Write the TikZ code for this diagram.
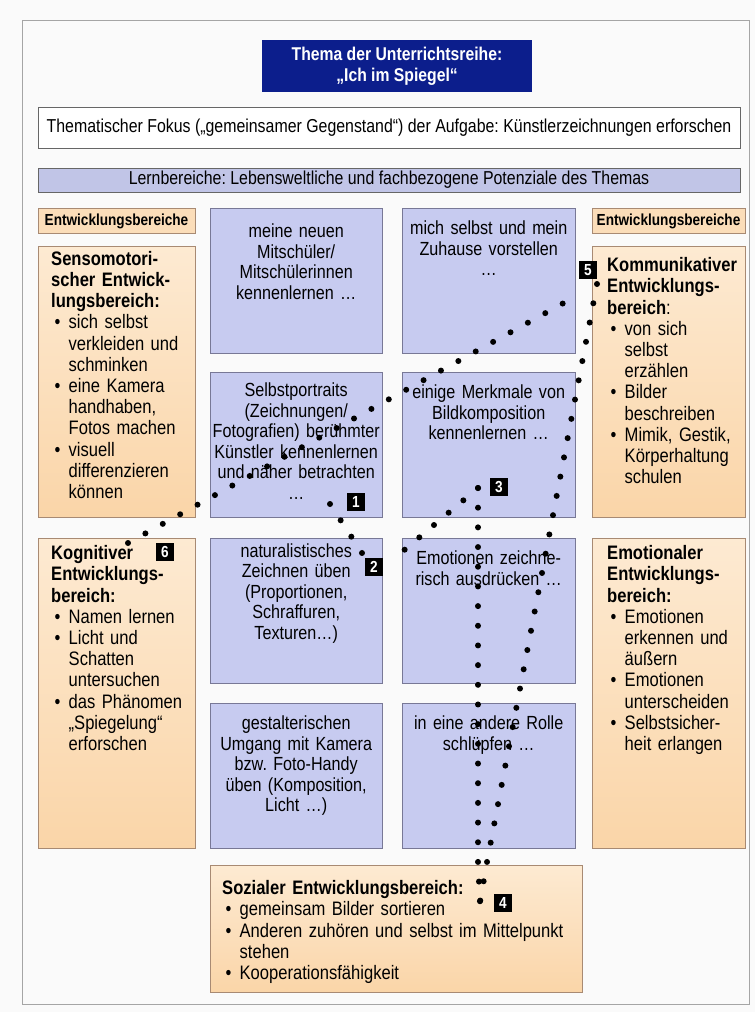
\documentclass[tikz,border=0pt]{standalone}
\usepackage{fontspec}
\setmainfont{Liberation Sans}[FakeStretch=0.85]

\definecolor{titelblau}{RGB}{12,30,140}
\definecolor{lernblau}{RGB}{199,203,240}
\definecolor{lernrand}{RGB}{120,120,150}
\definecolor{entwhell}{RGB}{253,234,210}
\definecolor{entwdunkel}{RGB}{250,213,168}
\definecolor{entwrand}{RGB}{168,138,115}
\definecolor{rahmen}{RGB}{165,165,165}

\newcommand{\pkt}{\makebox[17.5pt][l]{\hspace{3.5pt}•}}
\newcommand{\ein}{\hspace*{17.5pt}}
\frenchspacing

\tikzset{
  lern/.style={draw=lernrand, fill=lernblau, anchor=north west,
    inner sep=0pt, text width=172pt, align=center,
    text height=26.5pt, text depth=118.5pt,
    font=\fontsize{19}{20.5}\selectfont},
  entw/.style={draw=entwrand, top color=entwhell, bottom color=entwdunkel,
    anchor=north west, inner xsep=13pt, inner ysep=0pt, align=left,
    font=\fontsize{19.5}{21.2}\selectfont},
  kopf/.style={draw=entwrand, fill=entwdunkel!80!white, inner sep=0pt,
    minimum height=25pt, font=\bfseries\fontsize{16}{16}\selectfont},
  marke/.style={fill=black, text=white, inner sep=0pt, minimum width=18pt,
    minimum height=18pt, font=\bfseries\fontsize{16}{16}\selectfont},
  punkte/.style={line width=6pt, line cap=round, dash pattern=on 0pt off #1}
}

\begin{document}
\begin{tikzpicture}[x=1pt, y=-1pt]
\useasboundingbox (0,0) rectangle (755,1012);
\fill[white!98!black] (0,0) rectangle (755,1012);
\draw[rahmen, line width=1pt] (22,20) rectangle (749,1004);

% Thema, Fokus, Lernbereiche
\node[fill=titelblau, text=white, minimum width=270pt, minimum height=52pt,
  align=center, font=\bfseries\fontsize{18.5}{21}\selectfont] (thema) at (397,66)
  {Thema der Unterrichtsreihe:\\„Ich im Spiegel“};
\node[draw=gray!80!black, fill=white, minimum width=702pt, minimum height=41pt,
  font=\fontsize{18.7}{20}\selectfont] (fokus) at (389,127.5)
  {Thematischer Fokus („gemeinsamer Gegenstand“) der Aufgabe: Künstlerzeichnungen erforschen};
\node[draw=gray!80!black, fill=lernblau!92!gray, minimum width=702pt, minimum height=24pt,
  font=\fontsize{18.7}{20}\selectfont] (lernber) at (389,180)
  {Lernbereiche: Lebensweltliche und fachbezogene Potenziale des Themas};

% Entwicklungsbereiche
\node[kopf, minimum width=157pt] (entwl) at (116.5,221) {Entwicklungsbereiche};
\node[kopf, minimum width=153pt] (entwr) at (668.5,221) {Entwicklungsbereiche};

\node[entw, text width=131pt, text height=19pt, text depth=252pt] (senso) at (38,246)
  {\textbf{Sensomotori-}\\\textbf{scher Entwick-}\\\textbf{lungsbereich:}\\\pkt sich selbst\\\ein verkleiden und\\\ein schminken\\\pkt eine Kamera\\\ein handhaben,\\\ein Fotos machen\\\pkt visuell\\\ein differenzieren\\\ein können};
\node[entw, text width=131pt, text height=21.5pt, text depth=288.5pt] (kogn) at (38,538)
  {\textbf{Kognitiver}\\\textbf{Entwicklungs-}\\\textbf{bereich:}\\\pkt Namen lernen\\\pkt Licht und\\\ein Schatten\\\ein untersuchen\\\pkt\mbox{das Phänomen}\\\ein „Spiegelung“\\\ein erforschen};
\node[entw, inner xsep=15pt, text width=123pt, text height=25.5pt, text depth=245.5pt] (komm) at (592,246)
  {\textbf{Kommunikativer}\\\textbf{Entwicklungs-}\\\textbf{bereich}:\\\pkt von sich\\\ein selbst\\\ein erzählen\\\pkt Bilder\\\ein beschreiben\\\pkt\mbox{Mimik, Gestik,}\\\ein Körperhaltung\\\ein schulen};
\node[entw, inner xsep=15pt, text width=123pt, text height=21.5pt, text depth=288.5pt] (emo) at (592,538)
  {\textbf{Emotionaler}\\\textbf{Entwicklungs-}\\\textbf{bereich:}\\\pkt Emotionen\\\ein erkennen und\\\ein äußern\\\pkt Emotionen\\\ein unterscheiden\\\pkt Selbstsicher-\\\ein heit erlangen};
\node[entw, inner xsep=12pt, text width=348pt, text height=29.5pt, text depth=97.5pt] (sozial) at (210,865)
  {\textbf{Sozialer Entwicklungsbereich:}\\\pkt gemeinsam Bilder sortieren\\\pkt Anderen zuhören und selbst im Mittelpunkt\\\ein stehen\\\pkt Kooperationsfähigkeit};

% Lernbereiche
\node[lern, text height=29.5pt, text depth=115.5pt] (lern11) at (210,208)
  {meine neuen\\Mitschüler/\\Mitschülerinnen\\kennenlernen …};
\node[lern, text width=173pt] (lern12) at (402,208)
  {mich selbst und mein\\Zuhause vorstellen\\…};
\node[lern, text height=24.5pt, text depth=120.5pt] (lern21) at (210,372)
  {Selbstportraits\\(Zeichnungen/\\Fotografien) berühmter\\Künstler kennenlernen\\und näher betrachten\\…};
\node[lern, text width=173pt] (lern22) at (402,372)
  {einige Merkmale von\\Bildkomposition\\kennenlernen …};
\node[lern, text height=19pt, text depth=126pt] (lern31) at (210,538)
  {naturalistisches\\Zeichnen üben\\(Proportionen,\\Schraffuren,\\Texturen…)};
\node[lern, text width=173pt] (lern32) at (402,538)
  {Emotionen zeichne-\\risch ausdrücken …};
\node[lern] (lern41) at (210,703)
  {gestalterischen\\Umgang mit Kamera\\bzw. Foto-Handy\\üben (Komposition,\\Licht …)};
\node[lern, text width=173pt] (lern42) at (402,703)
  {in eine andere Rolle\\schlüpfen …};

% Punktlinien
\coordinate (p6) at (128,543);
\coordinate (p5) at (580,294);
\coordinate (q5) at (597,284);
\coordinate (q4) at (487,862);
\coordinate (p4) at (480,902);
\coordinate (p3) at (478,488);
\coordinate (r4) at (478,862);
\coordinate (p2) at (390,562);
\coordinate (p1) at (330,504);
\coordinate (r2) at (362,553);
\draw[punkte=19.85pt] (p6) -- (p5);
\draw[punkte=19.61pt] (q5) -- (q4) -- (p4);
\draw[punkte=19.68pt] (p3) -- (r4) -- (p4);
\draw[punkte=19.17pt] (p3) -- (p2);
\draw[punkte=19.5pt] (p1) -- (r2);

% Nummern
\node[marke] (m1) at (356,502) {1};
\node[marke] (m2) at (374,567) {2};
\node[marke] (m3) at (499,487) {3};
\node[marke] (m4) at (503,903) {4};
\node[marke] (m5) at (588,270) {5};
\node[marke] (m6) at (165,552) {6};
\end{tikzpicture}
\end{document}
